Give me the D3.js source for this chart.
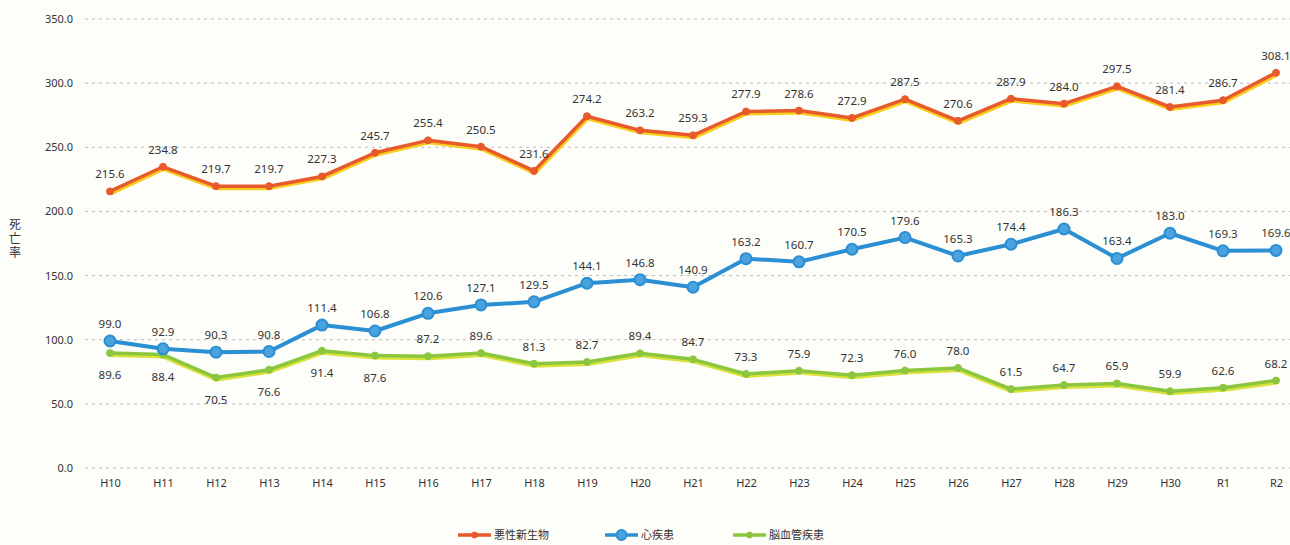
<!DOCTYPE html>
<html>
<head>
<meta charset="utf-8">
<script src="https://cdn.jsdelivr.net/npm/d3@7"></script>
<style>
  body { margin: 0; background: #fdfdf9; }
  text { font-family: "Noto Sans", "Noto Sans CJK JP", sans-serif; fill: #333; }
</style>
</head>
<body>
<script>
// categories (fiscal years)
var years = ["H10","H11","H12","H13","H14","H15","H16","H17","H18","H19","H20","H21",
             "H22","H23","H24","H25","H26","H27","H28","H29","H30","R1","R2"];

var cancer = [215.6,234.8,219.7,219.7,227.3,245.7,255.4,250.5,231.6,274.2,263.2,259.3,
              277.9,278.6,272.9,287.5,270.6,287.9,284.0,297.5,281.4,286.7,308.1];
var heart = [99.0,92.9,90.3,90.8,111.4,106.8,120.6,127.1,129.5,144.1,146.8,140.9,
             163.2,160.7,170.5,179.6,165.3,174.4,186.3,163.4,183.0,169.3,169.6];
var stroke = [89.6,88.4,70.5,76.6,91.4,87.6,87.2,89.6,81.3,82.7,89.4,84.7,
              73.3,75.9,72.3,76.0,78.0,61.5,64.7,65.9,59.9,62.6,68.2];

// which stroke labels sit under the line
var strokeBelow = ["H10","H11","H12","H13","H14","H15"];

var yTicks = [0,50,100,150,200,250,300,350];
var seriesNames = ["悪性新生物","心疾患","脳血管疾患"];

var width = 1290, height = 545;
var svg = d3.select("body").append("svg")
    .attr("width", width)
    .attr("height", height);

var x = d3.scalePoint().domain(years).range([110, 1276]);
var y = d3.scaleLinear().domain([0, 350]).range([468, 19]);

// gridlines
svg.append("g").selectAll("line")
    .data(yTicks)
    .enter().append("line")
    .attr("x1", 85).attr("x2", 1290)
    .attr("y1", function (d) { return y(d); })
    .attr("y2", function (d) { return y(d); })
    .style("stroke", "#bdbdbd")
    .style("stroke-width", 1)
    .style("stroke-dasharray", "3,4");

// y axis labels
var yAxis = d3.axisLeft(y).tickValues(yTicks).tickFormat(d3.format(".1f")).tickSize(0).tickPadding(0);
var gy = svg.append("g").attr("transform", "translate(73,0)").call(yAxis);
gy.select(".domain").remove();
gy.selectAll("text").style("font-size", "11px").style("fill", "#333")
    .style("font-family", "'Noto Sans', sans-serif");

// x axis labels
var xAxis = d3.axisBottom(x).tickSize(0).tickPadding(0);
var gx = svg.append("g").attr("transform", "translate(0,479)").call(xAxis);
gx.select(".domain").remove();
gx.selectAll("text").style("font-size", "11px").style("fill", "#333")
    .style("font-family", "'Noto Sans', sans-serif");

// y title: text runs downwards, each glyph turned back upright
svg.append("text")
    .attr("transform", "translate(9,229) rotate(90)")
    .attr("rotate", "-90")
    .style("font-family", "'Noto Sans CJK JP', sans-serif")
    .style("font-size", "12px")
    .style("letter-spacing", "2px")
    .text("死亡率");

var line = d3.line()
    .x(function (d, i) { return x(years[i]); })
    .y(function (d) { return y(d); });

function drawSeries(values, opts) {
    var g = svg.append("g");
    if (opts.halo) {
        g.append("path").datum(values)
            .attr("d", line)
            .attr("transform", "translate(0.5,1.5)")
            .style("fill", "none")
            .style("stroke", opts.halo)
            .style("stroke-width", opts.width + 1.5)
            .style("stroke-linejoin", "round");
    }
    g.append("path").datum(values)
        .attr("d", line)
        .style("fill", "none")
        .style("stroke", opts.color)
        .style("stroke-width", opts.width)
        .style("stroke-linejoin", "round");

    g.selectAll("circle")
        .data(values)
        .enter().append("circle")
        .attr("cx", function (d, i) { return x(years[i]); })
        .attr("cy", function (d) { return y(d); })
        .attr("r", opts.r)
        .style("fill", opts.markerFill)
        .style("stroke", opts.color)
        .style("stroke-width", opts.markerStroke);

    g.selectAll("text")
        .data(values)
        .enter().append("text")
        .attr("x", function (d, i) { return x(years[i]); })
        .attr("y", function (d, i) {
            var below = opts.below && opts.below.indexOf(years[i]) >= 0;
            return y(d) + (below ? 26 : -13);
        })
        .style("text-anchor", "middle")
        .style("font-size", "11.5px")
        .text(function (d) { return d.toFixed(1); });
}

drawSeries(stroke, { color: "#8cc63e", halo: "#d8e23a", width: 3.5, r: 3.5, markerFill: "#8cc63e", markerStroke: 1, below: strokeBelow });
drawSeries(heart, { color: "#2b8fd3", width: 4, r: 5.5, markerFill: "#4aa3de", markerStroke: 2 });
drawSeries(cancer, { color: "#e8592b", halo: "#f6cf1c", width: 3.5, r: 3.5, markerFill: "#e8592b", markerStroke: 1 });

// legend
var legendX = [458, 605, 733];
var legendColors = ["#e8592b", "#2b8fd3", "#8cc63e"];
var legendR = [3, 5, 3];
var lg = svg.append("g").selectAll("g")
    .data(seriesNames)
    .enter().append("g")
    .attr("transform", function (d, i) { return "translate(" + legendX[i] + ",535)"; });

lg.append("line")
    .attr("x1", 0).attr("x2", 33).attr("y1", 0).attr("y2", 0)
    .style("stroke", function (d, i) { return legendColors[i]; })
    .style("stroke-width", 3.5);
lg.append("circle")
    .attr("cx", 16.5).attr("cy", 0)
    .attr("r", function (d, i) { return legendR[i]; })
    .style("fill", function (d, i) { return i == 1 ? "#4aa3de" : legendColors[i]; })
    .style("stroke", function (d, i) { return legendColors[i]; })
    .style("stroke-width", function (d, i) { return i == 1 ? 2 : 1; });
lg.append("text")
    .attr("x", 36).attr("y", 4)
    .style("font-size", "11px")
    .style("font-family", "'Noto Sans CJK JP', sans-serif")
    .text(function (d) { return d; });
</script>
</body>
</html>
